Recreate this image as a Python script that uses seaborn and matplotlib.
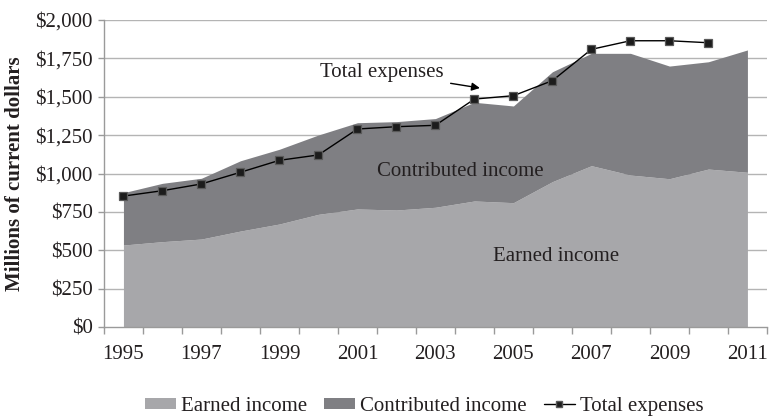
import numpy as np
import pandas as pd
import matplotlib
matplotlib.use("Agg")
import matplotlib.pyplot as plt
from matplotlib.patches import Patch
from matplotlib.lines import Line2D
import seaborn as sns

# Revenue and expenses, millions of current dollars
years = list(range(1995, 2012))
earned_income = [534, 556, 573, 625, 671, 734, 769, 762, 780, 821, 810, 947,
                 1051, 990, 966, 1029, 1008]
total_income = [875, 936, 969, 1083, 1158, 1251, 1331, 1338, 1358, 1464, 1440,
                1663, 1783, 1783, 1700, 1728, 1805]
contributed_income = [t - e for t, e in zip(total_income, earned_income)]
total_expenses = [853, 888, 932, 1008, 1086, 1121, 1290, 1305, 1314, 1485,
                  1507, 1605, 1809, 1865, 1865, 1852, np.nan]

y_ticks = [0, 250, 500, 750, 1000, 1250, 1500, 1750, 2000]
y_tick_labels = ["$0", "$250", "$500", "$750", "$1,000", "$1,250", "$1,500",
                 "$1,750", "$2,000"]

df = pd.DataFrame({
    "year": years,
    "pos": np.arange(len(years)),
    "earned": earned_income,
    "contributed": contributed_income,
    "expenses": total_expenses,
})
df["top"] = df["earned"] + df["contributed"]

sns.set_theme(style="white")
plt.rcParams["font.family"] = ["Liberation Serif", "DejaVu Serif"]
plt.rcParams["mathtext.default"] = "regular"

c_earned = "#a7a7aa"
c_contrib = "#7f7f83"
c_grid = "#b4b4b4"
c_text = "#231f20"
fs = 15

fig = plt.figure(figsize=(7.7, 4.19), dpi=100)
ax = fig.add_axes([0.135, 0.2196, 0.861, 0.7326])

for y in y_ticks[1:]:
    ax.axhline(y, color=c_grid, lw=1.0, zorder=0)

# Stacked areas
ax.fill_between(df["pos"], 0, df["earned"], color=c_earned, lw=0, zorder=1)
ax.fill_between(df["pos"], df["earned"], df["top"], color=c_contrib, lw=0, zorder=1)

# Expenses line
sns.lineplot(data=df, x="pos", y="expenses", ax=ax, color="black", lw=1.0,
             marker="s", markersize=6.2, markerfacecolor="#1c1c1c",
             markeredgecolor="#5a5a5a", markeredgewidth=0.9, zorder=3,
             legend=False)

ax.set_xlim(-0.5, len(years) - 0.5)
ax.set_ylim(0, 2000)

ax.set_xticks(df["pos"][::2])
ax.set_xticklabels([str(y) for y in years[::2]])
ax.set_xticks(np.arange(-0.5, len(years)), minor=True)
ax.tick_params(axis="x", which="major", length=0, pad=13, labelsize=fs,
               labelcolor=c_text)
ax.tick_params(axis="x", which="minor", length=5, width=1.0, color="#9a9a9a",
               bottom=True)
ax.set_yticks(y_ticks)
ax.set_yticklabels(y_tick_labels)
ax.tick_params(axis="y", length=4, width=1.0, color="#9a9a9a", pad=4,
               labelsize=fs, labelcolor=c_text, left=True)

for side in ["top", "right"]:
    ax.spines[side].set_visible(False)
for side in ["left", "bottom"]:
    ax.spines[side].set_color("#9a9a9a")
    ax.spines[side].set_linewidth(1.0)

ax.set_xlabel("")
ax.set_ylabel("Millions of current dollars", fontsize=fs, fontweight="bold",
              color=c_text, labelpad=7)

ax.text(8.65, 1015, "Contributed income", fontsize=fs, color=c_text,
        ha="center", va="center", zorder=4)
ax.text(11.1, 460, "Earned income", fontsize=fs, color=c_text,
        ha="center", va="center", zorder=4)
ax.annotate("Total expenses", xy=(9.14, 1557), xytext=(8.2, 1660),
            fontsize=fs, color=c_text, ha="right", va="center",
            arrowprops=dict(arrowstyle="-|>", color="black", lw=1.0,
                            mutation_scale=12, shrinkA=3, shrinkB=0),
            zorder=4)

handles = [
    Patch(facecolor=c_earned, edgecolor="none", label="Earned income"),
    Patch(facecolor=c_contrib, edgecolor="none", label="Contributed income"),
    Line2D([0], [0], color="black", lw=1.0, marker="s", markersize=5,
           markerfacecolor="#1c1c1c", markeredgecolor="#5a5a5a",
           label="Total expenses"),
]
fig.legend(handles=handles, loc="center", bbox_to_anchor=(0.551, 0.03),
           ncol=3, frameon=False, fontsize=fs, handlelength=1.5,
           handleheight=0.5, handletextpad=0.25, columnspacing=0.8,
           labelcolor=c_text)

fig.savefig("out.png", dpi=100)
